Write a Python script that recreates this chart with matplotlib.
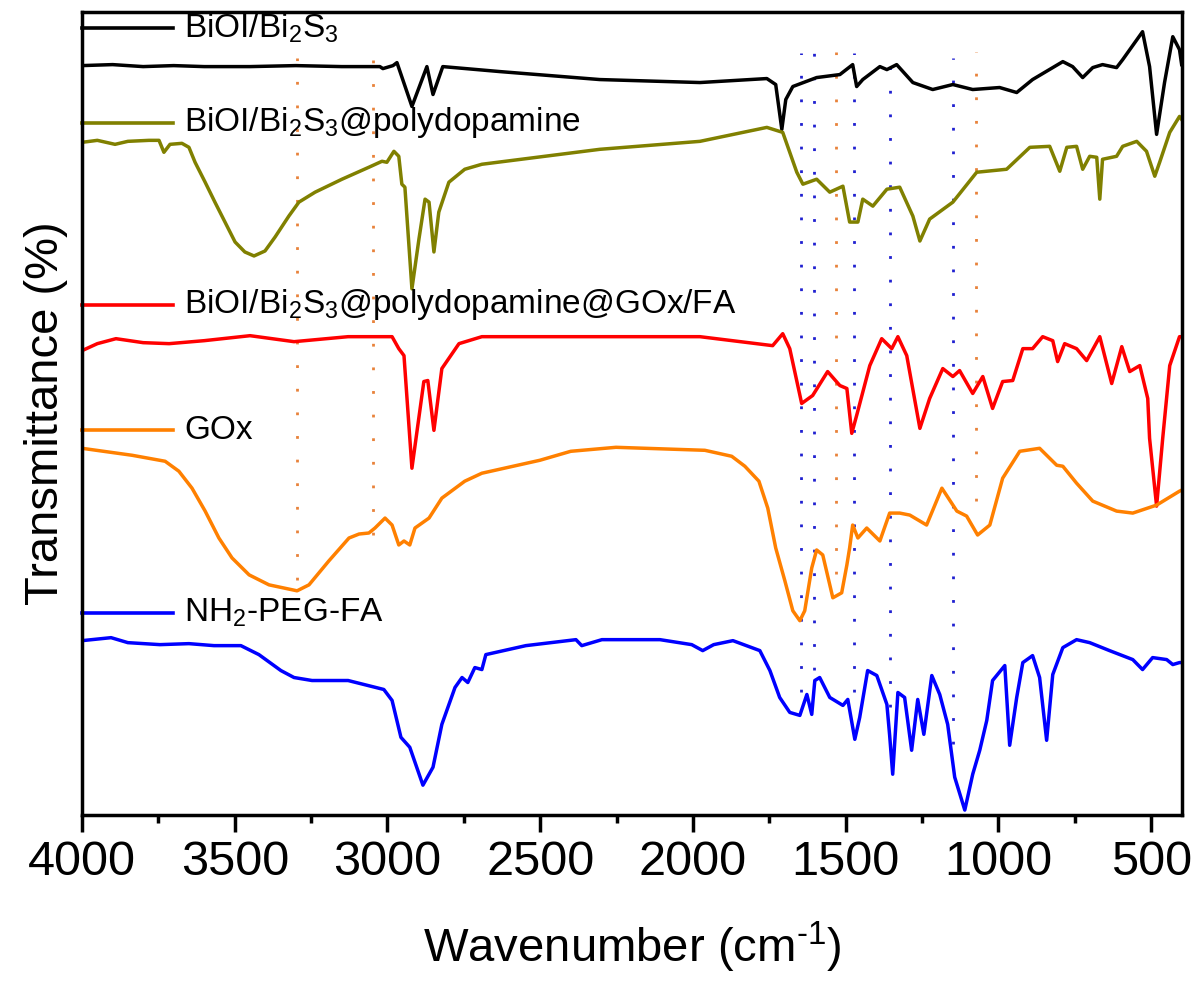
import matplotlib
matplotlib.use("Agg")
import matplotlib.pyplot as plt

plt.rcParams['font.family'] = ['Liberation Sans', 'DejaVu Sans']
plt.rcParams['mathtext.fontset'] = 'custom'
plt.rcParams['mathtext.rm'] = 'Liberation Sans'
plt.rcParams['mathtext.it'] = 'Liberation Sans:italic'

# espectros FTIR (numero de onda en cm-1, transmitancia con desplazamiento, u.a.)
wn_black = [4000, 3900, 3800, 3700, 3600, 3450, 3300, 3150, 3025, 3015, 2982, 2969, 2920, 2871,
            2851, 2819, 2632, 2305, 1977, 1758, 1729, 1709, 1696, 1673, 1595, 1519, 1477, 1464,
            1444, 1388, 1365, 1333, 1280, 1215, 1149, 1084, 996, 940, 888, 789, 757, 724, 691,
            659, 613, 593, 528, 505, 482, 456, 429, 407, 400]
t_black = [74.9, 75.0, 74.8, 74.9, 74.8, 74.8, 74.9, 74.8, 74.8, 74.6, 74.9, 75.2, 70.8, 74.8,
           72.0, 74.8, 74.3, 73.5, 73.2, 73.6, 73.0, 68.5, 71.5, 72.8, 73.7, 74.0, 75.0, 72.8,
           73.5, 74.8, 74.5, 75.0, 73.2, 72.5, 73.0, 72.5, 72.7, 72.2, 73.5, 75.3, 74.8, 73.7,
           74.7, 75.0, 74.7, 75.5, 78.3, 74.8, 68.0, 73.2, 77.8, 76.5, 75.0]

wn_olive = [4000, 3950, 3892, 3850, 3781, 3748, 3732, 3712, 3673, 3650, 3630, 3597, 3565, 3532,
            3499, 3467, 3437, 3401, 3368, 3323, 3290, 3237, 3149, 3061, 3018, 3002, 2979, 2963,
            2953, 2943, 2920, 2897, 2877, 2864, 2848, 2832, 2799, 2747, 2691, 2305, 1977, 1758,
            1706, 1660, 1640, 1595, 1552, 1509, 1487, 1460, 1444, 1411, 1365, 1323, 1280, 1257,
            1225, 1149, 1071, 973, 897, 832, 799, 776, 744, 724, 701, 678, 668, 659, 613, 593,
            547, 515, 488, 472, 439, 407, 400]
t_olive = [67.2, 67.4, 67.0, 67.3, 67.4, 67.4, 66.2, 67.0, 67.1, 66.7, 65.2, 63.2, 61.2, 59.2,
           57.2, 56.2, 55.8, 56.3, 57.7, 59.8, 61.2, 62.2, 63.5, 64.7, 65.3, 65.2, 66.3, 65.8,
           63.0, 62.7, 52.5, 57.5, 61.5, 61.2, 56.2, 60.2, 63.2, 64.5, 65.0, 66.5, 67.3, 68.7,
           68.2, 64.2, 63.0, 63.5, 62.2, 62.8, 59.2, 59.2, 61.5, 60.8, 62.5, 62.7, 59.8, 57.3,
           59.5, 61.2, 64.2, 64.5, 66.7, 66.8, 64.3, 66.7, 66.8, 64.5, 65.8, 65.7, 61.5, 65.5,
           65.8, 66.8, 67.3, 66.3, 63.8, 65.2, 68.2, 69.8, 69.5]

wn_red = [4000, 3950, 3889, 3800, 3715, 3600, 3450, 3306, 3129, 2985, 2963, 2946, 2920, 2881,
          2868, 2848, 2822, 2766, 2691, 2305, 1977, 1739, 1706, 1683, 1644, 1608, 1559, 1519,
          1496, 1480, 1464, 1421, 1382, 1349, 1329, 1300, 1257, 1225, 1182, 1149, 1127, 1084,
          1051, 1019, 986, 953, 920, 888, 855, 822, 806, 783, 744, 711, 668, 629, 596, 570, 537,
          511, 505, 482, 462, 439, 407, 400]
t_red = [46.3, 47.0, 47.5, 47.1, 47.0, 47.3, 47.8, 47.2, 47.7, 47.7, 46.5, 45.8, 34.5, 43.2,
         43.3, 38.3, 44.5, 47.0, 47.7, 47.7, 47.7, 46.8, 48.0, 46.5, 41.0, 41.8, 44.2, 42.8,
         42.5, 38.0, 39.8, 44.8, 47.5, 46.5, 47.7, 45.8, 38.5, 41.5, 44.5, 43.7, 44.3, 42.0,
         43.7, 40.5, 43.2, 43.3, 46.5, 46.5, 47.7, 47.3, 45.2, 47.0, 46.5, 45.3, 47.7, 43.0,
         46.7, 44.2, 44.8, 41.5, 37.5, 30.7, 37.5, 44.8, 47.7, 47.7]

wn_orange = [4000, 3836, 3728, 3683, 3640, 3597, 3552, 3509, 3453, 3388, 3296, 3257, 3192, 3126,
             3093, 3061, 3041, 3008, 2985, 2963, 2946, 2927, 2910, 2887, 2864, 2822, 2747, 2691,
             2501, 2400, 2252, 1961, 1873, 1830, 1784, 1755, 1729, 1699, 1673, 1650, 1634, 1611,
             1595, 1575, 1542, 1513, 1496, 1487, 1477, 1460, 1431, 1388, 1356, 1323, 1290, 1235,
             1185, 1136, 1104, 1068, 1028, 986, 930, 865, 809, 789, 744, 691, 613, 560, 482, 407,
             400]
t_orange = [36.5, 35.8, 35.2, 34.2, 32.5, 30.2, 27.5, 25.5, 23.8, 22.8, 22.2, 22.8, 25.2, 27.5,
            27.9, 28.0, 28.5, 29.5, 28.8, 26.8, 27.2, 26.8, 28.5, 29.0, 29.5, 31.5, 33.2, 34.0,
            35.3, 36.2, 36.6, 36.3, 35.7, 34.7, 33.2, 30.5, 26.5, 23.2, 20.2, 19.2, 20.2, 24.5,
            26.3, 25.8, 21.5, 22.0, 24.8, 26.5, 28.8, 27.5, 28.5, 27.2, 30.0, 30.0, 29.8, 28.8,
            32.5, 30.2, 29.7, 27.8, 28.8, 33.5, 36.2, 36.5, 34.8, 34.7, 33.0, 31.2, 30.2, 30.0,
            30.8, 32.2, 32.3]

wn_blue = [4000, 3905, 3850, 3745, 3650, 3568, 3480, 3421, 3349, 3306, 3247, 3129, 3012, 2985,
           2956, 2927, 2884, 2851, 2822, 2779, 2756, 2737, 2714, 2691, 2678, 2547, 2383, 2364,
           2298, 2108, 2004, 1968, 1932, 1869, 1781, 1748, 1716, 1683, 1650, 1627, 1611, 1601,
           1585, 1552, 1509, 1493, 1470, 1454, 1428, 1398, 1365, 1356, 1346, 1329, 1307, 1284,
           1264, 1244, 1218, 1192, 1166, 1143, 1110, 1084, 1061, 1038, 1019, 979, 963, 940, 920,
           888, 865, 842, 822, 789, 744, 701, 636, 560, 528, 495, 449, 429, 407, 400]
t_blue = [17.2, 17.5, 17.0, 16.8, 16.9, 16.7, 16.7, 15.8, 14.2, 13.5, 13.2, 13.2, 12.3, 11.2,
          7.5, 6.5, 2.7, 4.5, 8.8, 12.5, 13.5, 13.0, 14.5, 14.3, 15.8, 16.7, 17.3, 16.7, 17.3,
          17.3, 16.8, 16.2, 16.8, 17.2, 16.2, 14.2, 11.5, 10.0, 9.7, 11.8, 9.8, 13.2, 13.5,
          11.5, 10.7, 11.3, 7.3, 9.5, 14.2, 13.7, 10.8, 7.7, 3.8, 12.0, 11.5, 6.2, 11.3, 7.8,
          13.7, 11.8, 8.8, 3.5, 0.2, 3.8, 6.2, 9.2, 13.2, 14.7, 6.7, 11.5, 15.0, 15.7, 13.5,
          7.2, 13.8, 16.5, 17.3, 17.0, 16.2, 15.3, 14.3, 15.5, 15.3, 14.8, 15.0, 15.0]

# lineas de referencia (posicion, extremo superior, extremo inferior)
ref_orange = [3296, 3047, 1530, 1072]
ref_orange_top = [75.7, 75.7, 76.3, 76.3]
ref_orange_bot = [23.3, 27.8, 23.9, 31.2]
ref_blue = [1645, 1603, 1472, 1355, 1150]
ref_blue_top = [76.2, 76.2, 76.2, 76.9, 75.7]
ref_blue_bot = [12.0, 14.3, 12.0, 10.5, 6.8]

etiquetas = ['BiOI/Bi$_2$S$_3$', 'BiOI/Bi$_2$S$_3$@polydopamine',
             'BiOI/Bi$_2$S$_3$@polydopamine@GOx/FA', 'GOx', 'NH$_2$-PEG-FA']
colores = ['#000000', '#808000', '#FF0000', '#FF8000', '#0000FF']
pos_etiqueta = [0.980, 0.862, 0.635, 0.479, 0.252]

fig = plt.figure(figsize=(11.96, 9.82), dpi=100)
ax = fig.add_axes([0.0686, 0.170, 0.9194, 0.818])

for i in range(len(ref_orange)):
    ax.plot([ref_orange[i], ref_orange[i]], [ref_orange_bot[i], ref_orange_top[i]],
            color='#E8823A', lw=2.0, linestyle=(0, (1, 7.5)), zorder=1)
for i in range(len(ref_blue)):
    ax.plot([ref_blue[i], ref_blue[i]], [ref_blue_bot[i], ref_blue_top[i]],
            color='#2020D0', lw=2.0, linestyle=(0, (1, 7.5)), zorder=1)

datos = [(wn_black, t_black), (wn_olive, t_olive), (wn_red, t_red),
         (wn_orange, t_orange), (wn_blue, t_blue)]
for (x, y), c in zip(datos, colores):
    ax.plot(x, y, color=c, lw=2.5, zorder=2, solid_joinstyle='round')

# leyenda dibujada a mano al lado de cada curva
for lab, c, yp in zip(etiquetas, colores, pos_etiqueta):
    ax.plot([0.0, 0.083], [yp, yp], color=c, lw=2.6, transform=ax.transAxes, clip_on=False)
    ax.text(0.093, yp, lab, transform=ax.transAxes, fontsize=24, va='center', ha='left')

ax.set_xlim(4000, 400)
ax.set_ylim(-0.3, 80.3)
ax.set_xticks([4000, 3500, 3000, 2500, 2000, 1500, 1000, 500])
ax.set_xticks([3750, 3250, 2750, 2250, 1750, 1250, 750], minor=True)
ax.set_yticks([])
ax.tick_params(axis='x', which='major', direction='out', length=12, width=2.5, labelsize=35, pad=6)
ax.tick_params(axis='x', which='minor', direction='out', length=6, width=2.5)
for s in ax.spines.values():
    s.set_linewidth(2.5)
ax.set_xlabel('Wavenumber (cm$^{\\text{-1}}$)', fontsize=34, labelpad=25)
ax.set_ylabel('Transmittance (%)', fontsize=34, labelpad=10)

plt.savefig('out.png', dpi=100)
